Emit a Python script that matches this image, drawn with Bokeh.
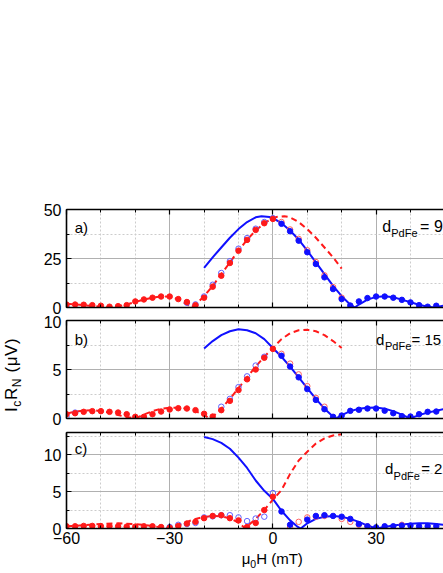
from bokeh.plotting import figure
from bokeh.layouts import column, row
from bokeh.models import Range1d, LinearAxis, SingleIntervalTicker, Label, CustomJSTickFormatter, Div
from bokeh.embed import file_html
from bokeh.resources import INLINE

FONT = "Liberation Sans"

# ---------------- data ----------------
H_LEFT = [-60, -57.5, -55, -52.5, -50, -47.5, -45, -42.5, -40, -37.5, -35, -32.5,
          -30, -27.5, -25, -22.5, -20, -17.5, -15, -12.5, -10, -7.5, -5, -2.5, 0]
H_RIGHT = [2.5, 5, 7.5, 10, 12.5, 15, 17.5, 20, 22.5, 25, 27.5, 30, 32.5, 35,
           37.5, 40, 42.5, 45, 47.5]

# panel a) d = 9 nm
A_RED = [1.5, 1.5, 1.4, 1.2, 0.9, 0.4, 0.7, 1.2, 3.1, 4.1, 5.0, 5.6, 5.6, 4.3, 2.8,
         1.2, 5.0, 10.6, 16.2, 22.7, 29.0, 34.5, 39.6, 43.0, 45.2]
A_BLUE = [42.7, 38.9, 34.1, 28.2, 22.2, 15.4, 9.4, 4.3, 1.0, 3.1, 4.8, 5.6, 5.6, 5.0,
          3.9, 2.6, 1.2, 0.4, 0.9]
A_BLUE_OPEN_H = [-60, -25, -22.5, -20, -17.5, -15, -12.5, -10, -7.5, -5, -2.5, 0]
A_BLUE_OPEN = [0.3, 2.4, 1.6, 5.6, 11.6, 17.6, 23.6, 30.0, 35.4, 40.2, 43.6, 45.6]
A_RED_OPEN_H = [2.5, 5, 7.5, 10, 12.5, 15, 17.5, 20]
A_RED_OPEN = [43.6, 39.8, 35.0, 29.2, 23.2, 16.4, 10.4, 5.0]
A_BFIT_H = [-20, -17.5, -15, -12.5, -10, -7.5, -5, -3.3, -1, 0, 2.5, 5, 7.5, 10, 12.5,
            15, 17.5, 20, 22, 23.8, 25, 27.5, 30, 32.5, 35, 37.5, 40, 42.5, 45, 47, 49.6]
A_BFIT = [20.2, 25.6, 30.6, 35.6, 40.0, 43.6, 46.0, 46.6, 46.2, 45.6, 43.0, 39.3, 34.6,
          29.0, 23.0, 17.0, 11.0, 5.8, 2.3, 0.0, 1.5, 4.0, 5.4, 5.7, 5.2, 4.0, 2.7, 1.4,
          0.4, 0.0, 0.9]
A_RFIT_H = [-60, -57.5, -55, -52.5, -50, -47, -45, -42.5, -40, -37.5, -35, -32.5, -30,
            -27.5, -25, -23.8, -22, -20, -17.5, -15, -12.5, -10, -7.5, -5, -2.5, 0, 1,
            3.3, 5, 7.5, 10, 12.5, 15, 17.5, 20]
A_RFIT = [1.9, 1.6, 1.2, 0.8, 0.4, 0.0, 0.6, 1.5, 2.8, 4.0, 5.0, 5.6, 5.5, 4.2, 1.6, 0.0,
          2.3, 5.8, 11.0, 17.0, 23.0, 29.0, 34.6, 39.3, 43.0, 45.6, 46.2, 46.6, 46.0,
          43.6, 40.0, 35.6, 30.6, 25.6, 19.8]

# panel b) d = 15 nm
B_RED = [0.44, 0.54, 0.68, 0.75, 0.75, 0.68, 0.61, 0.44, 0.17, 0.17, 0.44, 0.71, 0.92,
         1.05, 1.02, 0.85, 0.48, 0.2, 0.85, 1.8, 2.9, 4.0, 5.0, 6.2, 7.1]
B_BLUE = [6.4, 5.3, 4.2, 3.0, 1.9, 0.95, 0.17, 0.3, 0.78, 0.89, 1.02, 1.02, 0.8, 0.54,
          0.24, 0.2, 0.44, 0.68, 0.71]
B_BLUE_OPEN_H = [-60, -57.5, -37.5, -15, -12.5, -10, -7.5, -5, -2.5]
B_BLUE_OPEN = [0.2, 0.6, 0.1, 1.2, 2.0, 3.2, 4.3, 5.4, 6.3]
B_RED_OPEN_H = [2.5, 5, 7.5, 10, 12.5, 15]
B_RED_OPEN = [6.6, 5.6, 4.5, 3.3, 2.1, 1.2]
B_BFIT_H = [-20, -17.5, -15, -12.5, -10, -7.5, -5, -2.5, 0, 2.5, 5, 7.5, 10, 12.5, 15,
            17, 18.3, 20, 22.5, 25, 27.5, 30, 32.5, 35, 37.5, 39.8, 42.5, 45, 47.5, 49.6]
B_BFIT = [7.15, 7.9, 8.5, 8.9, 9.1, 9.0, 8.7, 8.1, 7.2, 6.3, 5.3, 4.2, 3.1, 2.0, 1.0,
          0.35, 0.0, 0.35, 0.75, 1.0, 1.1, 1.12, 1.0, 0.75, 0.4, 0.0, 0.35, 0.6, 0.8, 0.95]
B_RFIT_H = [-60, -57.5, -55, -52.5, -50, -47.5, -45, -42.5, -40, -37.5, -35, -32.5, -30,
            -27.5, -25, -22.5, -20, -18.3, -17, -15, -12.5, -10, -7.5, -5, -2.5, 0, 2.5,
            5, 7.5, 10, 12.5, 15, 17.5, 20]
B_RFIT = [0.5, 0.7, 0.8, 0.85, 0.75, 0.6, 0.35, 0.15, 0.0, 0.4, 0.75, 1.0, 1.1, 1.1, 1.0,
          0.75, 0.35, 0.0, 0.35, 1.0, 2.0, 3.1, 4.2, 5.3, 6.3, 7.2, 8.1, 8.7, 9.0, 9.05,
          8.9, 8.5, 7.9, 7.2]

# panel c)
C_RED = [0.3, 0.3, 0.35, 0.35, 0.3, 0.3, 0.3, 0.25, 0.25, 0.3, 0.3, 0.2, 0.1, 0.35,
         0.67, 0.9, 1.4, 1.7, 1.8, 1.4, 1.1, 0.2, 0.75, 2.5, 4.3]
C_BLUE_H = [2.5, 5, 10, 12.5, 15, 17.5, 20, 22.5, 25, 27.5, 30, 32.5, 35, 37.5, 40,
            42.5, 45, 47.5]
C_BLUE = [2.3, 0.5, 1.2, 1.7, 1.8, 1.7, 1.6, 1.3, 0.6, 0.3, 0.15, 0.3, 0.3, 0.4, 0.4,
          0.3, 0.3, 0.3]
C_BLUE_OPEN_H = [-30, -27.5, -25, -22.5, -20, -17.5, -15, -12.5, -10, -7.5, -5, -2.5, 0]
C_BLUE_OPEN = [0.2, 0.5, 0.6, 0.75, 1.5, 1.65, 1.8, 1.8, 1.5, 1.0, 1.35, 1.6, 4.8]
C_RED_OPEN_H = [5, 7.5, 10, 12.5, 15, 20, 22.5, 25, 27.5, 37.5]
C_RED_OPEN = [0.2, 0.9, 1.5, 1.6, 1.7, 1.3, 0.9, 0.5, 0.3, 0.5]
C_BFIT_H = [-20, -17.5, -15, -12.5, -10, -7.5, -5, -2.5, 0, 2.5, 5, 7, 8.1, 10, 12.5, 15,
            17.5, 20, 22.5, 25, 27.5, 30, 32.5, 35, 37.5, 40, 42.5, 45, 47.5, 49.6]
C_BFIT = [12.4, 12.1, 11.6, 10.8, 9.6, 8.2, 6.5, 5.1, 4.0, 2.4, 1.1, 0.3, 0.0, 0.7, 1.3,
          1.6, 1.7, 1.6, 1.3, 0.9, 0.4, 0.0, 0.2, 0.4, 0.55, 0.65, 0.7, 0.7, 0.6, 0.5]
C_RFIT_H = [-60, -55, -50, -45, -40, -35, -31, -27.5, -25, -22.5, -20, -17.5, -15, -12.5,
            -10, -8, -6.7, -5, -2.5, 0, 2.5, 5, 7.5, 10, 12.5, 15, 17.5, 20]
C_RFIT = [0.3, 0.45, 0.6, 0.7, 0.6, 0.35, 0.0, 0.5, 0.9, 1.3, 1.55, 1.7, 1.65, 1.4, 0.8,
          0.0, 0.6, 1.3, 2.5, 3.9, 5.2, 7.4, 9.2, 10.4, 11.5, 12.2, 12.6, 12.75]

X_TICK_STEP = 30
Y_RANGES = {"a": (0, 50), "b": (0, 10), "c": (0, 13)}
Y_TICK_STEPS = {"a": 25, "b": 5, "c": 5}
PANEL_TAGS = {"a": "a)", "b": "b)", "c": "c)"}
D_VALUES = {"a": "= 9", "b": "= 15", "c": "= 2"}
X_TITLE = ("\u03bc", "0", "H (mT)")
Y_TITLE = ("I", "c", "R", "N", " (\u03bcV)")

RED = "#ff1a1a"
BLUE = "#1010ff"
RED_OPEN = "#ff6060"
BLUE_OPEN = "#6060ff"

PAGE_H = 573
TITLE_W = 40          # width of the strip holding the y title
MAIN_W = 443 - TITLE_W

xr = Range1d(-60, 49.6)


def lab(p, x, y, text, size, color="black"):
    p.add_layout(Label(x=x, y=y, text=text, text_font=FONT, text_font_size=size,
                       text_color=color, text_baseline="alphabetic", text_align="left"))


def make_panel(key, height, top, bottom, show_xlabels):
    y0, y1 = Y_RANGES[key]
    p = figure(width=MAIN_W, height=height, x_range=xr, y_range=Range1d(y0, y1),
               output_backend="svg", toolbar_location=None,
               min_border_left=66 - TITLE_W, min_border_right=0,
               min_border_top=top, min_border_bottom=bottom,
               x_axis_location=None, y_axis_location=None)
    p.outline_line_color = None
    p.background_fill_color = "white"
    p.border_fill_color = "white"

    xt = SingleIntervalTicker(interval=X_TICK_STEP, num_minor_ticks=3)
    yt = SingleIntervalTicker(interval=Y_TICK_STEPS[key], num_minor_ticks=2)

    def style(ax, labels):
        ax.axis_line_width = 1.6
        ax.axis_line_color = "black"
        ax.major_tick_in = 5
        ax.major_tick_out = 0
        ax.minor_tick_in = 3
        ax.minor_tick_out = 0
        ax.major_tick_line_width = 1.2
        ax.minor_tick_line_width = 1.0
        ax.major_label_text_font = FONT
        ax.major_label_text_color = "black"
        if labels:
            ax.major_label_text_font_size = "16px"
            ax.major_label_standoff = 3
        else:
            ax.formatter = CustomJSTickFormatter(code="return ''")
            ax.major_label_text_font_size = "1px"
            ax.major_label_standoff = 0

    bax = LinearAxis(ticker=xt)
    style(bax, show_xlabels)
    p.add_layout(bax, "below")
    tax = LinearAxis(ticker=xt)
    style(tax, False)
    p.add_layout(tax, "above")
    lax = LinearAxis(ticker=yt)
    style(lax, True)
    lax.major_label_standoff = 5
    p.add_layout(lax, "left")

    for g, t in ((p.xgrid, xt), (p.ygrid, yt)):
        g.ticker = t
        g.grid_line_color = "#b0b0b0"
        g.grid_line_width = 1
        g.minor_grid_line_color = "#cccccc"
        g.minor_grid_line_dash = "2 2"
        g.minor_grid_line_width = 1
    return p


pa = make_panel("a", 315, 209, 8, False)
pb = make_panel("b", 112, 5, 9, False)
pc = make_panel("c", 123, 5, 22, True)


def draw(p, rfit_h, rfit, bfit_h, bfit, red_h, red, blue_h, blue, bo_h, bo, ro_h, ro):
    p.line(rfit_h, rfit, line_color=RED, line_width=2, line_dash="6 4")
    p.line(bfit_h, bfit, line_color=BLUE, line_width=2)
    p.scatter(bo_h, bo, marker="circle", size=5.5, fill_color=None, line_color=BLUE_OPEN, line_width=1)
    p.scatter(ro_h, ro, marker="circle", size=5.5, fill_color=None, line_color=RED_OPEN, line_width=1)
    p.scatter(red_h, red, marker="circle", size=5.5, fill_color=RED, line_color=RED)
    p.scatter(blue_h, blue, marker="circle", size=5.5, fill_color=BLUE, line_color=BLUE)


draw(pa, A_RFIT_H, A_RFIT, A_BFIT_H, A_BFIT, H_LEFT, A_RED, H_RIGHT, A_BLUE,
     A_BLUE_OPEN_H, A_BLUE_OPEN, A_RED_OPEN_H, A_RED_OPEN)
draw(pb, B_RFIT_H, B_RFIT, B_BFIT_H, B_BFIT, H_LEFT, B_RED, H_RIGHT, B_BLUE,
     B_BLUE_OPEN_H, B_BLUE_OPEN, B_RED_OPEN_H, B_RED_OPEN)
draw(pc, C_RFIT_H, C_RFIT, C_BFIT_H, C_BFIT, H_LEFT, C_RED, C_BLUE_H, C_BLUE,
     C_BLUE_OPEN_H, C_BLUE_OPEN, C_RED_OPEN_H, C_RED_OPEN)

# panel tags
lab(pa, -57.6, 40.6, PANEL_TAGS["a"], "15px")
lab(pb, -57.6, 8.1, PANEL_TAGS["b"], "15px")
lab(pc, -57.6, 10.9, PANEL_TAGS["c"], "15px")

# thickness labels  d_PdFe = ...  (kept inside the visible width)
for key, p, xd, yd, ys, xs, xe, fs in (("a", pa, 31.8, 41.5, 37.9, 34.4, 42.8, "16px"),
                                      ("b", pb, 30.0, 8.09, 7.38, 32.6, 40.3, "15px"),
                                      ("c", pc, 32.6, 8.1, 7.16, 35.1, 43.1, "15px")):
    lab(p, xd, yd, "d", fs)
    lab(p, xs, ys, "PdFe", "11px")
    lab(p, xe, yd, D_VALUES[key], fs)

# ---- axis titles as real HTML text (subscripts via <sub>) ----
SUB = "font-size:{}px;vertical-align:-{}px;line-height:0;"
ytitle_html = (
    '<div style="position:relative;width:{w}px;height:{h}px;">'
    '<div style="position:absolute;left:2px;top:412px;transform:rotate(-90deg);'
    'transform-origin:0 0;white-space:nowrap;font-family:\'{f}\';font-size:17px;'
    'line-height:19px;letter-spacing:0.6px;color:#000;">'
    '{t0}<sub style="{s}">{t1}</sub>{t2}<sub style="{s}">{t3}</sub>{t4}</div></div>'
).format(w=TITLE_W, h=PAGE_H, f=FONT, s=SUB.format(12, 4), t0=Y_TITLE[0],
         t1=Y_TITLE[1], t2=Y_TITLE[2], t3=Y_TITLE[3], t4=Y_TITLE[4])
ydiv = Div(text=ytitle_html, width=TITLE_W, height=PAGE_H, margin=0)

xtitle_html = (
    '<div style="position:relative;width:{w}px;height:23px;">'
    '<div style="position:absolute;left:{l}px;top:0px;white-space:nowrap;'
    'font-family:\'{f}\';font-size:15px;line-height:17px;color:#000;">'
    '{t0}<sub style="{s}">{t1}</sub>{t2}</div></div>'
).format(w=MAIN_W, l=241.7 - TITLE_W, f=FONT, s=SUB.format(10.5, 4),
         t0=X_TITLE[0], t1=X_TITLE[1], t2=X_TITLE[2])
xdiv = Div(text=xtitle_html, width=MAIN_W, height=23, margin=0)

layout = row(ydiv, column(pa, pb, pc, xdiv, spacing=0), spacing=0)
open("out.html", "w").write(file_html(layout, INLINE))
